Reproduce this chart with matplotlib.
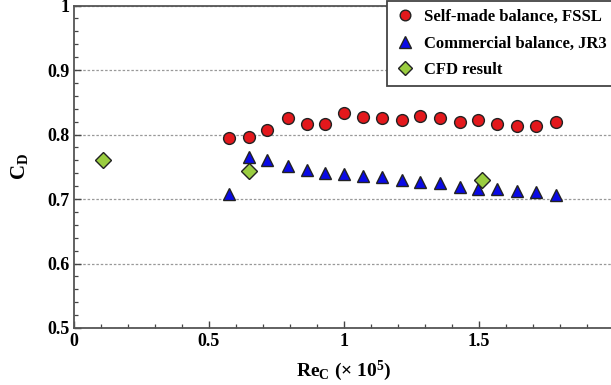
import matplotlib.pyplot as plt
import numpy as np
from matplotlib.ticker import MultipleLocator

#font setup, times-like bold everywhere
plt.rcParams['font.family'] = ['Liberation Serif', 'DejaVu Serif']
plt.rcParams['font.weight'] = 'bold'
plt.rcParams['axes.labelweight'] = 'bold'
plt.rcParams['mathtext.fontset'] = 'custom'
plt.rcParams['mathtext.rm'] = 'Liberation Serif:bold'
plt.rcParams['mathtext.it'] = 'Liberation Serif:bold'
plt.rcParams['mathtext.bf'] = 'Liberation Serif:bold'

#data
re_exp = [0.575, 0.647, 0.716, 0.791, 0.862, 0.928, 1.0, 1.070, 1.142,
          1.215, 1.281, 1.356, 1.428, 1.496, 1.565, 1.641, 1.712, 1.784]
cd_fssl = [0.795, 0.796, 0.807, 0.825, 0.817, 0.817, 0.833, 0.827, 0.825,
           0.823, 0.829, 0.825, 0.819, 0.822, 0.817, 0.813, 0.814, 0.819]
cd_jr3 = [0.708, 0.765, 0.760, 0.752, 0.745, 0.741, 0.739, 0.735, 0.734,
          0.729, 0.727, 0.725, 0.719, 0.716, 0.715, 0.713, 0.711, 0.706]
re_cfd = [0.107, 0.647, 1.512]
cd_cfd = [0.760, 0.744, 0.729]

fig = plt.figure(figsize=(6.11, 3.85), dpi=100)
ax = fig.add_axes([74/611, 57/385, 540/611, 322.4/385])

#grid lines first so markers sit on top
ax.yaxis.grid(True, which='major', linestyle=(0, (2, 1.5)), color='#999999', lw=0.9)
ax.set_axisbelow(True)

ax.plot(re_exp, cd_fssl, 'o', ms=8.5, mfc='#e3181c', mec='#222222', mew=1.0,
        label='Self-made balance, FSSL', zorder=3)
ax.plot(re_exp, cd_jr3, '^', ms=9, mfc='#0a0ae6', mec='#222222', mew=1.0,
        label='Commercial balance, JR3', zorder=3)
ax.plot(re_cfd, cd_cfd, 'D', ms=8, mfc='#9acd40', mec='#222222', mew=1.0,
        label='CFD result', zorder=4)

ax.set_xlim(0, 2)
ax.set_ylim(0.5, 1)
ax.xaxis.set_minor_locator(MultipleLocator(0.1))
ax.yaxis.set_minor_locator(MultipleLocator(0.02))
#the tick at 2 sits on the cropped right edge, so no label there
ax.set_xticks([0, 0.5, 1, 1.5, 2])
ax.set_xticklabels(['0', '0.5', '1', '1.5', ''])
ax.set_yticks([0.5, 0.6, 0.7, 0.8, 0.9, 1.0])
ax.set_yticklabels(['0.5', '0.6', '0.7', '0.8', '0.9', '1'])
ax.tick_params(which='both', direction='in', color='#444444', labelsize=13)
ax.tick_params(which='major', length=5, width=1.0)
ax.tick_params(which='minor', length=3, width=0.9)
for sp in ax.spines.values():
    sp.set_color('#555555')
    sp.set_linewidth(1.3)

ax.set_xlabel(r'Re$_\mathrm{C}$ ($\times$ 10$^5$)', fontsize=14, labelpad=6)
ax.set_ylabel(r'C$_\mathrm{D}$', fontsize=15, labelpad=12)

#legend box in the upper right
leg = fig.legend(loc='upper left', bbox_to_anchor=(387/611, 1 - 1/385),
                 borderaxespad=0, fontsize=12, frameon=True, fancybox=False,
                 handletextpad=0.5, borderpad=0.5, labelspacing=0.62,
                 handlelength=1.2, markerscale=0.9)
leg.get_frame().set_edgecolor('#444444')
leg.get_frame().set_linewidth(1.3)
leg.get_frame().set_alpha(1)

plt.savefig('out.png', dpi=100)
